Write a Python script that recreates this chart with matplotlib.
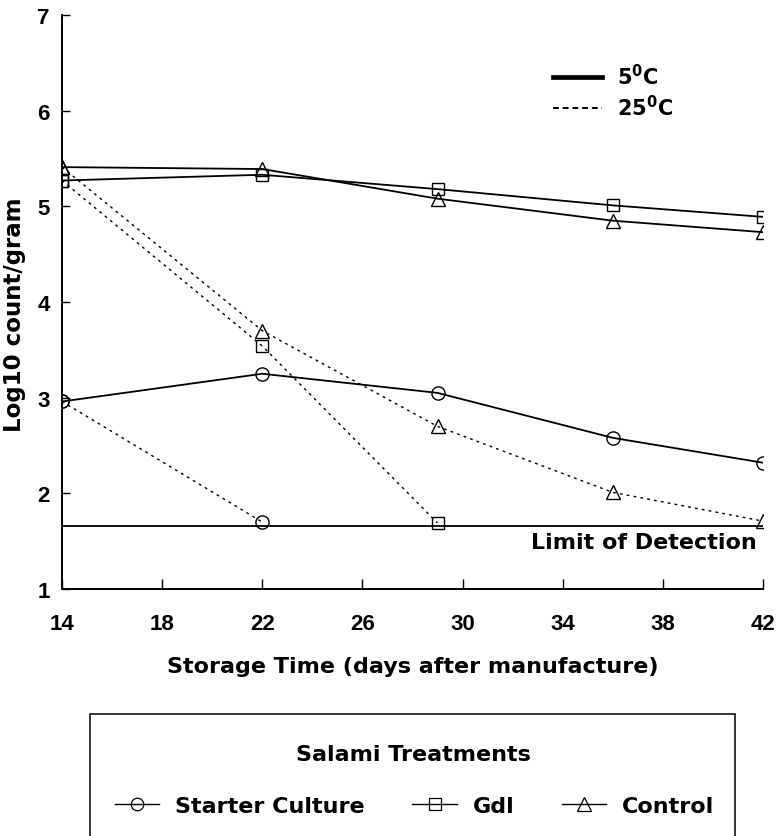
import matplotlib
matplotlib.use("Agg")
import matplotlib.pyplot as plt
from matplotlib.lines import Line2D
from matplotlib.patches import Rectangle

plt.rcParams['font.family'] = ['DejaVu Sans']
plt.rcParams['font.weight'] = 'bold'
plt.rcParams['mathtext.fontset'] = 'dejavusans'

# storage days
days = [14, 22, 29, 36, 42]

# log10 counts
starter_5 = [2.96, 3.25, 3.05, 2.58, 2.32]
gdl_5 = [5.27, 5.33, 5.18, 5.01, 4.89]
control_5 = [5.41, 5.39, 5.08, 4.85, 4.73]

starter_25_days = [14, 22]
starter_25 = [2.96, 1.70]
gdl_25_days = [14, 22, 29]
gdl_25 = [5.27, 3.54, 1.69]
control_25 = [5.41, 3.70, 2.70, 2.01, 1.71]

limit_days = [14, 42]
limit_value = [1.66, 1.66]

treatments = ['Starter Culture', 'Gdl', 'Control']
markers = ['o', 's', '^']
marker_sizes = [9, 8, 9.5]
temps = ['5$^{\\mathbf{0}}$C', '25$^{\\mathbf{0}}$C']

fig = plt.figure(figsize=(7.79, 8.37), dpi=100)
ax = fig.add_axes([62 / 779, 1 - 590 / 837, 701 / 779, 574 / 837])

dash = (0, (2.0, 3.0))
mk = dict(markerfacecolor='none', markeredgecolor='k', markeredgewidth=1.0, color='k')

ax.plot(days, starter_5, marker='o', ms=9.5, lw=1.3, **mk)
ax.plot(days, gdl_5, marker='s', ms=8.5, lw=1.3, **mk)
ax.plot(days, control_5, marker='^', ms=10, lw=1.3, **mk)
ax.plot(starter_25_days, starter_25, marker='o', ms=9.5, lw=1.0, ls=dash, **mk)
ax.plot(gdl_25_days, gdl_25, marker='s', ms=8.5, lw=1.0, ls=dash, **mk)
ax.plot(days, control_25, marker='^', ms=10, lw=1.0, ls=dash, **mk)
ax.plot(limit_days, limit_value, color='k', lw=1.3)

ax.text(41.76, 1.49, 'Limit of Detection', ha='right', va='center',
        fontsize=16, fontweight='bold')

ax.set_xlim(14, 42)
ax.set_ylim(1, 7)
ax.set_xticks([14, 18, 22, 26, 30, 34, 38, 42])
ax.set_yticks([1, 2, 3, 4, 5, 6, 7])
ax.spines['top'].set_visible(False)
ax.spines['right'].set_visible(False)
for s in ['left', 'bottom']:
    ax.spines[s].set_linewidth(1.4)
ax.tick_params(axis='x', direction='in', length=7, width=1, pad=17, labelsize=16)
ax.tick_params(axis='y', direction='in', length=6, width=1, pad=9, labelsize=16)
for lab in ax.get_xticklabels() + ax.get_yticklabels():
    lab.set_fontfamily('Liberation Sans')
    lab.set_fontweight('bold')

ax.set_xlabel('Storage Time (days after manufacture)', fontsize=16, fontweight='bold')
ax.xaxis.label.set_va('center')
ax.xaxis.set_label_coords(0.5, (590 - 667) / 574)
ax.set_ylabel('Log10 count/gram', fontsize=16.5, fontweight='bold')
ax.yaxis.label.set_va('center')
ax.yaxis.set_label_coords((15 - 62) / 701, (590 - 315) / 574)

# temperature key
temp_handles = [Line2D([], [], color='k', lw=3.4),
                Line2D([], [], color='k', lw=1.4, ls=(0, (3, 2)))]
ax.legend(temp_handles, temps, loc='upper left',
          bbox_to_anchor=(553 / 779, 1 - 64 / 837), bbox_transform=fig.transFigure,
          frameon=False, fontsize=15, borderpad=0, borderaxespad=0,
          handlelength=2.35, handletextpad=0.7, labelspacing=0.3)

# treatment key below the axes
fig.add_artist(Rectangle((90 / 779, -0.05), (735 - 90) / 779, 1 - 715 / 837 + 0.05,
                         transform=fig.transFigure, fill=False, ec='k', lw=1.1))
fig.text(413 / 779, 1 - 755 / 837, 'Salami Treatments', ha='center', va='center',
         fontsize=16, fontweight='bold')
tr_handles = [Line2D([], [], color='k', lw=1.0, marker=m, ms=s,
                     markerfacecolor='none', markeredgewidth=0.9)
              for m, s in zip(markers, marker_sizes)]
fig.legend(tr_handles, treatments, loc='center left',
           bbox_to_anchor=(115 / 779, 1 - 807 / 837), ncol=3, fontsize=16,
           frameon=False, borderpad=0, borderaxespad=0, handlelength=2.0,
           handletextpad=0.7, columnspacing=2.15)

fig.savefig('out.png', dpi=100)
